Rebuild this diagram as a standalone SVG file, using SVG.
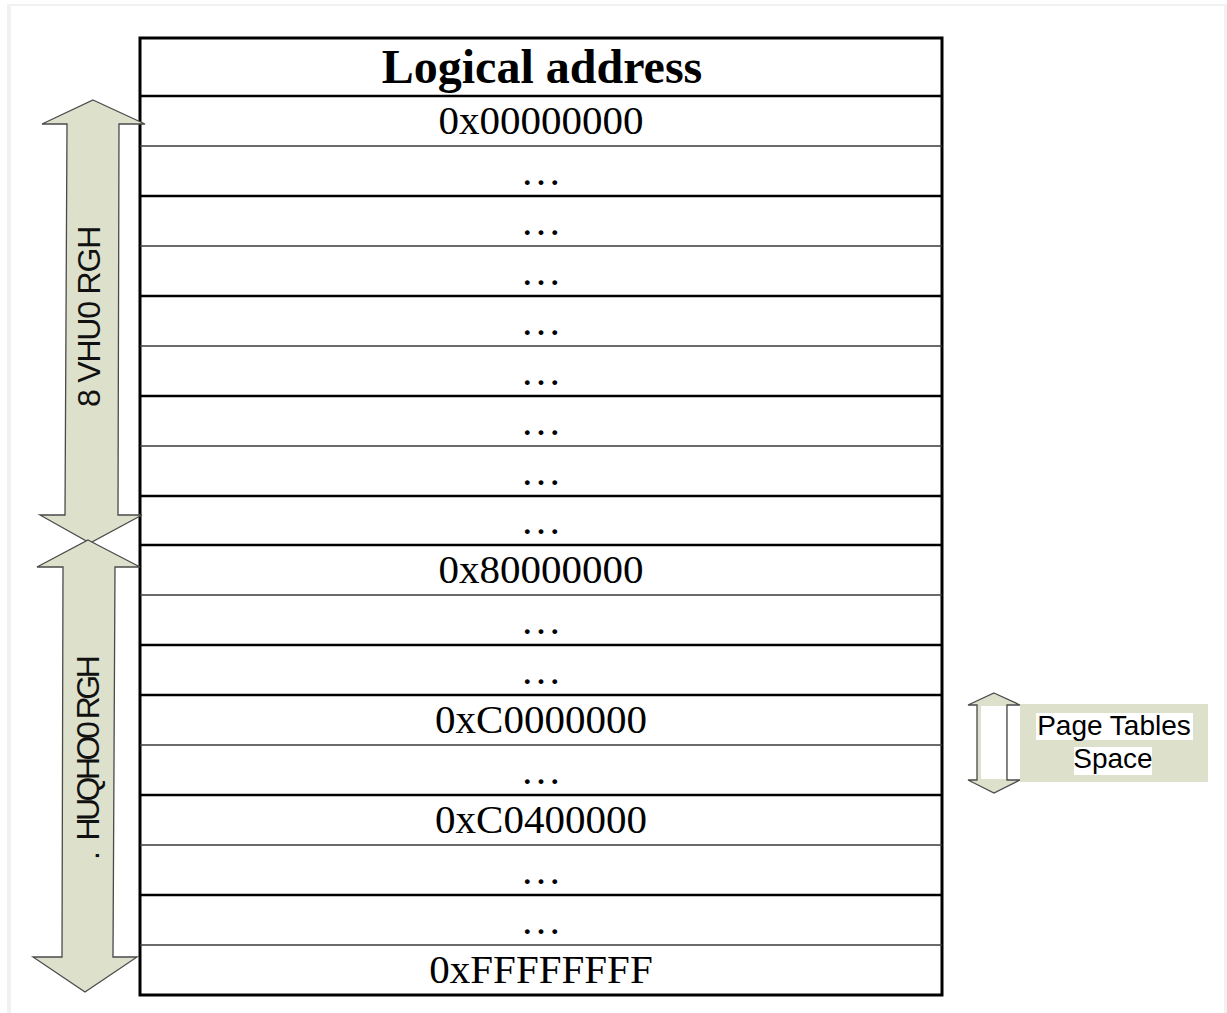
<svg xmlns="http://www.w3.org/2000/svg" width="1227" height="1013" viewBox="0 0 1227 1013">
<style>
.hdr{font-family:"Liberation Serif","Times New Roman",serif;font-weight:bold;font-size:48px;fill:#000;text-anchor:middle}
.addr{font-family:"Liberation Serif","Times New Roman",serif;font-size:41px;fill:#000;text-anchor:middle}
.thick{stroke:#000;stroke-width:2.6}
.thin{stroke:#3a3a3a;stroke-width:1.6}
.arrow{fill:#dde0cb;stroke:#4a4a4a;stroke-width:1.3;stroke-linejoin:miter}
.vlab{font-family:"Liberation Sans",Arial,sans-serif;font-size:32px;fill:#111}
.side{font-family:"Liberation Sans",Arial,sans-serif;font-size:28px;fill:#000;text-anchor:middle}
</style>
<rect x="0" y="0" width="1227" height="1013" fill="#ffffff"/>
<rect x="7" y="4" width="1220" height="1012" fill="#f1f1f1"/>
<rect x="11" y="6" width="1213" height="1010" fill="#ffffff"/>

<g id="table">
  <rect x="140" y="38" width="802" height="957" fill="#fff" stroke="#000" stroke-width="3"/>
  <line class="thick" x1="140" y1="96" x2="942" y2="96"/>
  <line class="thin" x1="140" y1="146" x2="942" y2="146"/>
  <line class="thick" x1="140" y1="196" x2="942" y2="196"/>
  <line class="thin" x1="140" y1="246" x2="942" y2="246"/>
  <line class="thick" x1="140" y1="296" x2="942" y2="296"/>
  <line class="thin" x1="140" y1="346" x2="942" y2="346"/>
  <line class="thick" x1="140" y1="396" x2="942" y2="396"/>
  <line class="thin" x1="140" y1="446" x2="942" y2="446"/>
  <line class="thick" x1="140" y1="496" x2="942" y2="496"/>
  <line class="thick" x1="140" y1="545" x2="942" y2="545"/>
  <line class="thin" x1="140" y1="595" x2="942" y2="595"/>
  <line class="thick" x1="140" y1="645" x2="942" y2="645"/>
  <line class="thick" x1="140" y1="695" x2="942" y2="695"/>
  <line class="thin" x1="140" y1="745" x2="942" y2="745"/>
  <line class="thick" x1="140" y1="795" x2="942" y2="795"/>
  <line class="thin" x1="140" y1="845" x2="942" y2="845"/>
  <line class="thick" x1="140" y1="895" x2="942" y2="895"/>
  <line class="thin" x1="140" y1="945" x2="942" y2="945"/>
  <text class="hdr" x="542" y="83">Logical address</text>
  <text class="addr" x="541" y="134">0x00000000</text>
  <text class="addr" x="541" y="185">…</text>
  <text class="addr" x="541" y="235">…</text>
  <text class="addr" x="541" y="285">…</text>
  <text class="addr" x="541" y="335">…</text>
  <text class="addr" x="541" y="385">…</text>
  <text class="addr" x="541" y="435">…</text>
  <text class="addr" x="541" y="485">…</text>
  <text class="addr" x="541" y="534">…</text>
  <text class="addr" x="541" y="583">0x80000000</text>
  <text class="addr" x="541" y="634">…</text>
  <text class="addr" x="541" y="684">…</text>
  <text class="addr" x="541" y="733">0xC0000000</text>
  <text class="addr" x="541" y="784">…</text>
  <text class="addr" x="541" y="833">0xC0400000</text>
  <text class="addr" x="541" y="884">…</text>
  <text class="addr" x="541" y="934">…</text>
  <text class="addr" x="541" y="983">0xFFFFFFFF</text>
</g>

<g id="connectors">
  <g id="user-mode-arrow">
    <polygon class="arrow" points="93,100 145,124 119,124 118,515 142,515 90,543 40,515 65,515 67,124 42,124"/>
    <text class="vlab" transform="translate(100,407) rotate(-90)" letter-spacing="-1.2">8 VHU0 RGH</text>
  </g>
  <g id="kernel-mode-arrow">
    <polygon class="arrow" points="88,540 140,567 115,567 113,957 137,957 85,992 33,957 62,957 63,567 37,567"/>
    <text class="vlab" transform="translate(99,860) rotate(-90)" letter-spacing="-3.5">.<tspan dx="14">HUQHO0 RGH</tspan></text>
  </g>
  <g id="page-tables-arrow">
    <polygon class="arrow" points="994,693 1020,705 1007,705 1007,780 1020,780 994,793 968,780 977,780 977,705 968,705"/>
    <rect x="981" y="706" width="25" height="73" fill="#fff"/>
  </g>
</g>

<g id="page-tables-label">
  <rect x="1020" y="704" width="188" height="78" fill="#dde0cb"/>
  <rect x="1036" y="713" width="157" height="27" fill="#fff"/>
  <rect x="1074" y="747" width="78" height="28" fill="#fff"/>
  <text class="side" x="1114" y="735">Page Tables</text>
  <text class="side" x="1113" y="768">Space</text>
</g>
</svg>
